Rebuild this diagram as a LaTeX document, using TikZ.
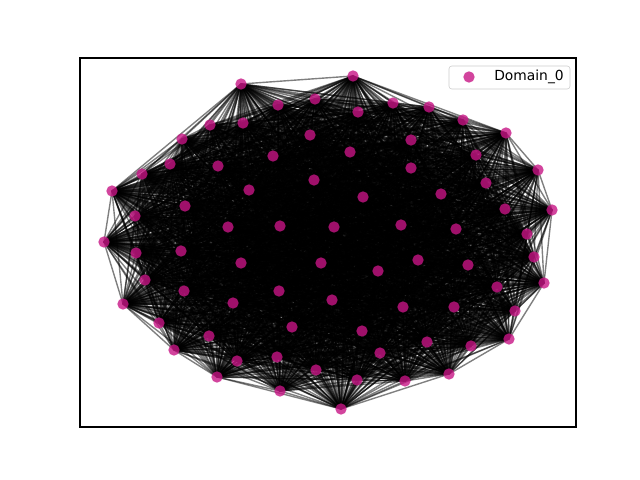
\documentclass[tikz,border=0pt]{standalone}
\usepackage{fontspec}
\setmainfont{DejaVu Sans}
\definecolor{domcol}{RGB}{199,21,133}
\pgfdeclarelayer{edges}
\pgfsetlayers{edges,main}

\begin{document}
\begin{tikzpicture}[x=0.01in,y=-0.01in]
		\tikzset{dom/.style={circle,fill=domcol,fill opacity=0.8,draw=none,minimum size=8.2pt,inner sep=0pt},
			edge/.style={black,opacity=0.5,line width=1pt}}
		\useasboundingbox (0,0) rectangle (640,480);
		\node [dom] (n1) at (241,84) {};
		\node [dom] (n2) at (278,105) {};
		\node [dom] (n3) at (315,99) {};
		\node [dom] (n4) at (210,125) {};
		\node [dom] (n5) at (243,123) {};
		\node [dom] (n6) at (182,139) {};
		\node [dom] (n7) at (310,135) {};
		\node [dom] (n8) at (170,164) {};
		\node [dom] (n9) at (218,166) {};
		\node [dom] (n10) at (273,156) {};
		\node [dom] (n11) at (142,174) {};
		\node [dom] (n12) at (314,180) {};
		\node [dom] (n13) at (112,191) {};
		\node [dom] (n14) at (249,190) {};
		\node [dom] (n15) at (185,206) {};
		\node [dom] (n16) at (135,216) {};
		\node [dom] (n17) at (228,227) {};
		\node [dom] (n18) at (280,226) {};
		\node [dom] (n19) at (104,242) {};
		\node [dom] (n20) at (353,76) {};
		\node [dom] (n21) at (393,103) {};
		\node [dom] (n22) at (358,112) {};
		\node [dom] (n23) at (429,107) {};
		\node [dom] (n24) at (463,120) {};
		\node [dom] (n25) at (506,133) {};
		\node [dom] (n26) at (411,140) {};
		\node [dom] (n27) at (350,152) {};
		\node [dom] (n28) at (476,155) {};
		\node [dom] (n29) at (411,168) {};
		\node [dom] (n30) at (538,170) {};
		\node [dom] (n31) at (486,183) {};
		\node [dom] (n32) at (363,197) {};
		\node [dom] (n33) at (441,194) {};
		\node [dom] (n34) at (505,209) {};
		\node [dom] (n35) at (552,210) {};
		\node [dom] (n36) at (334,227) {};
		\node [dom] (n37) at (401,225) {};
		\node [dom] (n38) at (456,229) {};
		\node [dom] (n39) at (527,234) {};
		\node [dom] (n40) at (136,253) {};
		\node [dom] (n41) at (181,251) {};
		\node [dom] (n42) at (241,263) {};
		\node [dom] (n43) at (321,263) {};
		\node [dom] (n44) at (145,280) {};
		\node [dom] (n45) at (184,291) {};
		\node [dom] (n46) at (279,291) {};
		\node [dom] (n47) at (123,304) {};
		\node [dom] (n48) at (233,303) {};
		\node [dom] (n49) at (332,300) {};
		\node [dom] (n50) at (292,327) {};
		\node [dom] (n51) at (159,323) {};
		\node [dom] (n52) at (209,336) {};
		\node [dom] (n53) at (174,350) {};
		\node [dom] (n54) at (237,361) {};
		\node [dom] (n55) at (277,357) {};
		\node [dom] (n56) at (217,377) {};
		\node [dom] (n57) at (316,370) {};
		\node [dom] (n58) at (280,391) {};
		\node [dom] (n59) at (418,260) {};
		\node [dom] (n60) at (468,265) {};
		\node [dom] (n61) at (378,271) {};
		\node [dom] (n62) at (534,257) {};
		\node [dom] (n63) at (544,283) {};
		\node [dom] (n64) at (497,287) {};
		\node [dom] (n65) at (403,307) {};
		\node [dom] (n66) at (454,307) {};
		\node [dom] (n67) at (515,311) {};
		\node [dom] (n68) at (509,339) {};
		\node [dom] (n69) at (362,331) {};
		\node [dom] (n70) at (427,342) {};
		\node [dom] (n71) at (471,346) {};
		\node [dom] (n72) at (380,353) {};
		\node [dom] (n73) at (449,374) {};
		\node [dom] (n74) at (357,380) {};
		\node [dom] (n75) at (405,381) {};
		\node [dom] (n76) at (341,409) {};
		% edges, every pair
		\begin{pgfonlayer}{edges}
			\foreach \i in {1,...,75} {
				\pgfmathtruncatemacro{\k}{\i+1}
				\foreach \j in {\k,...,76}
					\draw [edge] (n\i.center) -- (n\j.center);
			}
		\end{pgfonlayer}
		% axes frame
		\draw [black,line width=0.8pt] (80,58) rectangle (576,427);
		% legend
		\draw [draw=black!20,fill=white,fill opacity=0.8,rounded corners=2pt] (449,66) rectangle (570,89);
		\node [dom] (key) at (469,77) {};
		\node [anchor=west,inner sep=0pt,font=\fontsize{10}{12}\selectfont] (keytext) at (494,77) {Domain\_0};
	\end{tikzpicture}
\end{document}
